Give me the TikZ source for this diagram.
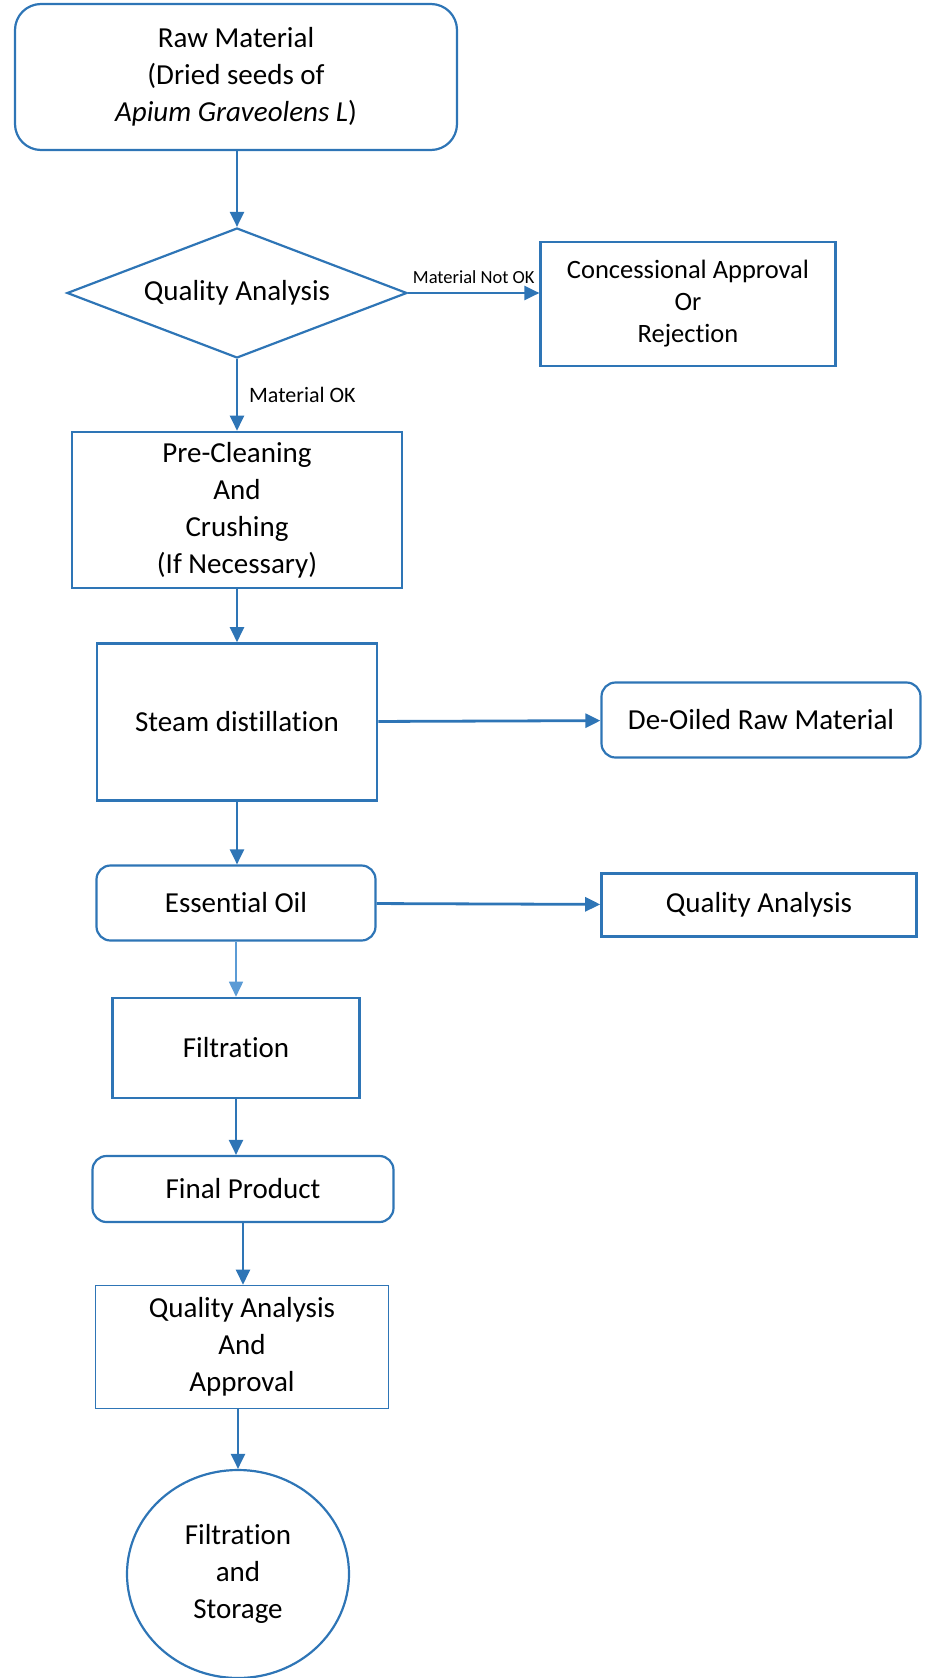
\documentclass[tikz,border=0pt]{standalone}
\usepackage{fontspec}
\setmainfont[Ligatures=NoCommon]{Carlito}
\usetikzlibrary{arrows.meta,shapes.geometric}
\definecolor{flowblue}{RGB}{46,117,182}
\definecolor{paleblue}{RGB}{91,155,213}

\begin{document}
\begin{tikzpicture}[x=1pt,y=-1pt,
                box/.style={draw=flowblue,line width=2.2pt,inner sep=0pt,align=center,
                        font=\fontsize{29}{37}\selectfont},
                roundbox/.style={box,rounded corners=14pt},
                arr/.style={flowblue,line width=2.2pt,-{Triangle[length=15pt,width=14pt]}},
                lbl/.style={inner sep=2pt,text=black}]
                \useasboundingbox (0,0) rectangle (924,1678);

                \node[roundbox,rounded corners=26pt,minimum width=442pt,minimum height=146pt] (R) at (236,77)
                        {Raw Material\\(Dried seeds of\\\textit{Apium Graveolens L})};
                \node[box,shape=diamond,aspect=2.6,minimum width=340pt,minimum height=130pt] (Q) at (237,293)
                        {Quality Analysis};
                \node[box,font=\fontsize{26.5}{32}\selectfont,minimum width=295pt,minimum height=124pt] (C) at (688,304)
                        {Concessional Approval\\Or\\Rejection};
                \node[box,line width=2.6pt,minimum width=330pt,minimum height=156pt] (P) at (237,510)
                        {Pre-Cleaning\\And\\Crushing\\(If Necessary)};
                \node[box,line width=2.6pt,minimum width=280pt,minimum height=157pt] (S) at (237,722)
                        {Steam distillation};
                \node[roundbox,minimum width=319pt,minimum height=75pt] (D) at (761,720)
                        {De-Oiled Raw Material};
                \node[roundbox,minimum width=279pt,minimum height=75pt] (E) at (236,903)
                        {Essential Oil};
                \node[box,line width=2.6pt,minimum width=315pt,minimum height=63pt] (A) at (759,905)
                        {Quality Analysis};
                \node[box,line width=2.6pt,minimum width=247pt,minimum height=100pt] (F) at (236,1048)
                        {Filtration};
                \node[roundbox,minimum width=301pt,minimum height=66pt] (G) at (243,1189)
                        {Final Product};
                \node[box,line width=1.6pt,minimum width=293pt,minimum height=123pt] (H) at (242,1347)
                        {Quality Analysis\\And\\Approval};
                \node[box,shape=ellipse,minimum width=222pt,minimum height=208pt] (K) at (238,1574)
                        {Filtration\\and\\Storage};

                \draw[arr] (Q |- R.south) -- (Q.north);
                \draw[arr] (Q.east) -- node[lbl,above=6pt,font=\fontsize{18.5}{22}\selectfont] (nok) {Material Not OK} (Q.east -| C.west);
                \draw[arr] (Q.south) -- node[lbl,right=9pt,font=\fontsize{22}{26}\selectfont] (ok) {Material OK} (P.north);
                \draw[arr] (P) -- (S);
                \draw[arr,line width=2.8pt] (S) -- (D);
                \draw[arr] (S) -- (S |- E.north);
                \draw[arr,line width=2.8pt] (E) -- (A);
                \draw[arr,paleblue,line width=1.6pt] (E) -- (F);
                \draw[arr] (F) -- (F |- G.north);
                \draw[arr] (G) -- (G |- H.north);
                \draw[arr] (K |- H.south) -- (K.north);
            \end{tikzpicture}
\end{document}
